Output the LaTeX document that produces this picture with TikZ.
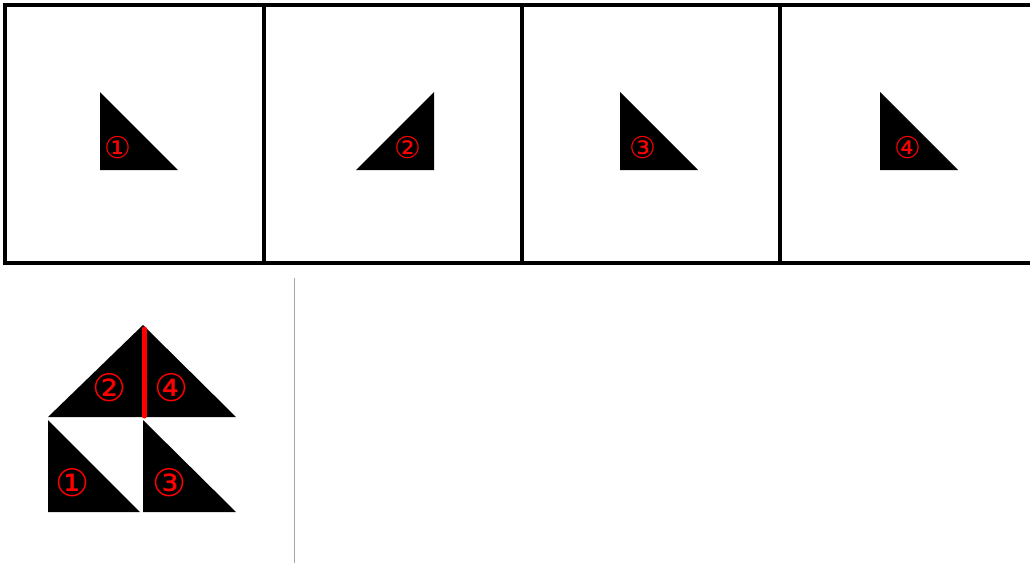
\documentclass[tikz,border=0pt]{standalone}
\usepackage{fontspec}
\newfontfamily\symfont{DejaVu Sans}
\begin{document}
\begin{tikzpicture}[x=1pt,y=-1pt,
  frame/.style={line width=3.2pt,draw=black},
  tri/.style={fill=black},
  lab/.style={text=red,font=\symfont\fontsize{30}{30}\selectfont,inner sep=0pt},
  biglab/.style={lab,font=\symfont\fontsize{38}{38}\selectfont}]
\useasboundingbox (0,0) rectangle (1030,563);
\fill[white] (0,0) rectangle (1030,563);
\begin{scope}
\clip (0,0) rectangle (1030,563);
% top frame
\draw[frame] (1045,5) -- (5,5) -- (5,263) -- (1045,263);
\draw[frame] (264,5) -- (264,263);
\draw[frame] (522,5) -- (522,263);
\draw[frame] (780,5) -- (780,263);
\end{scope}
% top triangles
\fill[tri] (100,92) -- (100,170) -- (178,170) -- cycle;
\node[lab] (t1) at (118,148) {①};
\fill[tri] (356,170) -- (434,170) -- (434,92) -- cycle;
\node[lab] (t2) at (408,148) {②};
\fill[tri] (620,92) -- (620,170) -- (698,170) -- cycle;
\node[lab] (t3) at (643,148) {③};
\fill[tri] (880,92) -- (880,170) -- (958,170) -- cycle;
\node[lab] (t4) at (908,148) {④};
% separator
\draw[gray!70,line width=1pt] (294,278) -- (294,563);
% bottom assembled figure
\fill[tri] (48,417) -- (143,417) -- (143,325) -- cycle;
\fill[tri] (143,325) -- (143,417) -- (236,417) -- cycle;
\fill[tri] (48,420) -- (48,512) -- (140,512) -- cycle;
\fill[tri] (143,420) -- (143,512) -- (236,512) -- cycle;
\draw[red,line width=5pt,line cap=round] (144,329) -- (144,416);
\node[biglab] (b2) at (110,388) {②};
\node[biglab] (b4) at (172,388) {④};
\node[biglab] (b1) at (73,483) {①};
\node[biglab] (b3) at (170,483) {③};
\end{tikzpicture}
\end{document}
